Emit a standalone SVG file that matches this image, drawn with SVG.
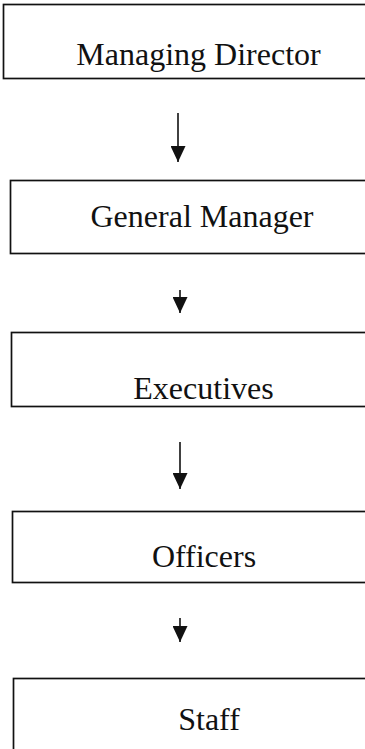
<svg xmlns="http://www.w3.org/2000/svg" width="365" height="749" viewBox="0 0 365 749">
<style>
.box{fill:#fff;stroke:#111;stroke-width:1.7}
.lbl{font-family:"Liberation Serif","Times New Roman",serif;font-size:32px;fill:#111;text-anchor:middle}
.conn{stroke:#111;stroke-width:1.6;fill:none}
</style>
<defs>
<marker id="ah" viewBox="0 0 16 15" refX="16" refY="7.5" markerWidth="16" markerHeight="15" markerUnits="userSpaceOnUse" orient="auto">
<path d="M0,0 L16,7.5 L0,15 z" fill="#111"/>
</marker>
</defs>
<rect width="365" height="749" fill="#fff"/>
<g id="n1"><rect class="box" x="3.5" y="4.5" width="420" height="74"/><text class="lbl" x="198.5" y="65">Managing Director</text></g>
<g id="n2"><rect class="box" x="10.5" y="180.5" width="420" height="73"/><text class="lbl" x="202" y="227">General Manager</text></g>
<g id="n3"><rect class="box" x="11.5" y="332.5" width="420" height="74"/><text class="lbl" x="203.5" y="399">Executives</text></g>
<g id="n4"><rect class="box" x="12.5" y="511.5" width="420" height="71"/><text class="lbl" x="204" y="567">Officers</text></g>
<g id="n5"><rect class="box" x="13.5" y="678.5" width="420" height="90"/><text class="lbl" x="209" y="730">Staff</text></g>
<g id="connectors">
<line class="conn" x1="178" y1="113" x2="178" y2="162" marker-end="url(#ah)"/>
<line class="conn" x1="180" y1="290" x2="180" y2="313" marker-end="url(#ah)"/>
<line class="conn" x1="180" y1="442" x2="180" y2="489" marker-end="url(#ah)"/>
<line class="conn" x1="180" y1="618" x2="180" y2="642" marker-end="url(#ah)"/>
</g>
</svg>
